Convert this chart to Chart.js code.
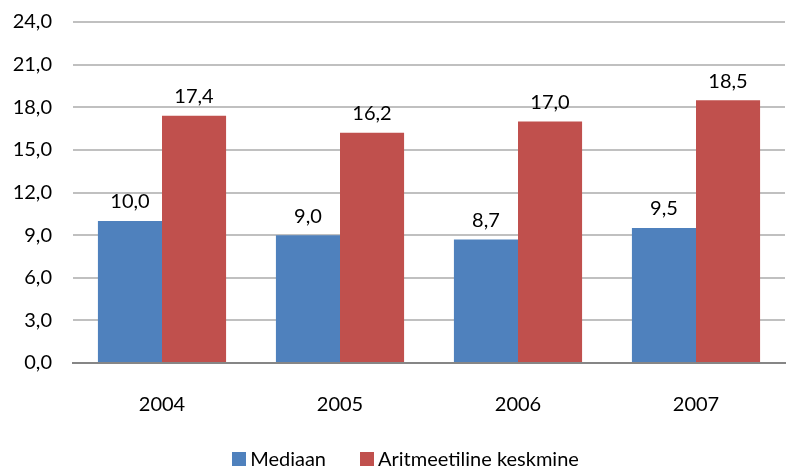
<!DOCTYPE html>
<html>
<head>
<meta charset="utf-8">
<script src="https://cdn.jsdelivr.net/npm/chart.js@4/dist/chart.umd.min.js"></script>
<style>
  html, body { margin: 0; padding: 0; background: #fff; }
  #wrap { position: relative; width: 788px; height: 468px; }
  #legend {
    position: absolute; left: 0; right: 0; top: 447px;
    display: flex; justify-content: center; padding-left: 23px;
    font: 20px Lato, 'Noto Sans', sans-serif; color: #000; line-height: 23px;
  }
  #legend span.item { display: inline-flex; align-items: center; margin: 0 17px; }
  #legend span.box { display: inline-block; width: 14px; height: 14px; margin-right: 4px; }
</style>
</head>
<body>
<div id="wrap"><canvas id="chart"></canvas><div id="legend"></div></div>
<script>
const years = ["2004", "2005", "2006", "2007"];
const median = [10.0, 9.0, 8.7, 9.5];
const mean = [17.4, 16.2, 17.0, 18.5];
const seriesNames = ["Mediaan", "Aritmeetiline keskmine"];
const colors = ["#4F81BD", "#C0504D"];

const FONT = "Lato, 'Noto Sans', sans-serif";
const fmt = v => v.toFixed(1).replace(".", ",");

// draws the value above each bar
const valueLabels = {
  id: "valueLabels",
  afterDatasetsDraw(chart) {
    const ctx = chart.ctx;
    ctx.save();
    ctx.font = "20px " + FONT;
    ctx.fillStyle = "#000";
    ctx.textAlign = "center";
    ctx.textBaseline = "bottom";
    chart.data.datasets.forEach((ds, i) => {
      chart.getDatasetMeta(i).data.forEach((bar, j) => {
        ctx.fillText(fmt(ds.data[j]), bar.x, bar.y - 9);
      });
    });
    ctx.restore();
  }
};

const chart = new Chart(document.getElementById("chart"), {
  type: "bar",
  data: {
    labels: years,
    datasets: [
      { label: seriesNames[0], data: median, backgroundColor: colors[0], categoryPercentage: 0.72, barPercentage: 1 },
      { label: seriesNames[1], data: mean, backgroundColor: colors[1], categoryPercentage: 0.72, barPercentage: 1 }
    ]
  },
  options: {
    responsive: true,
    maintainAspectRatio: false,
    animation: false,
    layout: { padding: { top: 0, right: 3, left: 0, bottom: 0 } },
    scales: {
      x: {
        afterFit(axis) { axis.height = 105; },
        grid: { display: false, drawTicks: false },
        border: { color: "#868686", width: 2 },
        ticks: { color: "#000", padding: 30, font: { size: 20, family: FONT } }
      },
      y: {
        min: 0,
        max: 24,
        afterFit(axis) { axis.width = 73; },
        grid: { color: "#c0c0c0", lineWidth: 2, drawTicks: true, tickLength: 11, tickColor: "rgba(0,0,0,0)" },
        border: { display: false },
        ticks: {
          stepSize: 3,
          padding: 10,
          color: "#000",
          font: { size: 20, family: FONT },
          callback: v => fmt(v)
        }
      }
    },
    plugins: {
      tooltip: { enabled: false },
      legend: { display: false }
    }
  },
  plugins: [valueLabels]
});

// legend below the chart, built from the dataset names and colours
document.getElementById("legend").innerHTML = chart.data.datasets.map(ds =>
  `<span class="item"><span class="box" style="background:${ds.backgroundColor}"></span>${ds.label}</span>`
).join("");
</script>
</body>
</html>
